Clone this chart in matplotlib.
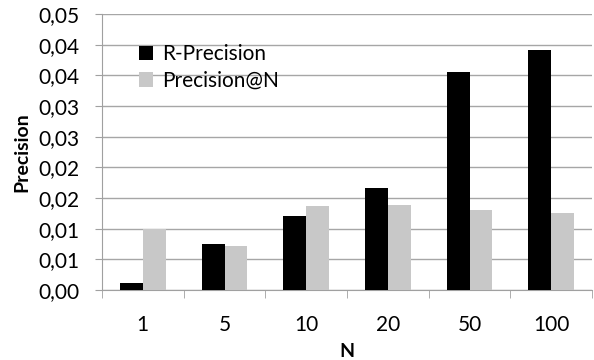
import numpy as np
import matplotlib
matplotlib.use("Agg")
import matplotlib.pyplot as plt
from matplotlib.ticker import FixedLocator

categories = ["1", "5", "10", "20", "50", "100"]
r_precision = [0.0011, 0.0075, 0.0120, 0.0167, 0.0356, 0.0391]
precision_at_n = [0.0100, 0.0072, 0.0137, 0.0139, 0.0131, 0.0125]
y_ticks = [0.0, 0.005, 0.01, 0.015, 0.02, 0.025, 0.03, 0.035, 0.04, 0.045]
# Excel-style rounding of the tick values to two decimals
y_labels = ["0,00", "0,01", "0,01", "0,02", "0,02", "0,03", "0,03", "0,04", "0,04", "0,05"]

plt.rcParams['font.family'] = ['Lato', 'DejaVu Sans']

fig = plt.figure(figsize=(5.94, 3.6), dpi=100)
ax = fig.add_axes([0.1717, 0.1944, 0.825, 0.7666])

x = np.arange(len(categories))
w = 0.28
ax.bar(x - w / 2, r_precision, w, color='black', label='R-Precision', zorder=3)
ax.bar(x + w / 2, precision_at_n, w, color='#c8c8c8', label='Precision@N', zorder=3)

ax.set_xlim(-0.5, len(categories) - 0.5)
ax.set_ylim(0, 0.045)
ax.set_yticks(y_ticks)
ax.set_yticklabels(y_labels, fontsize=15)

ax.set_xticks(x)
ax.set_xticklabels(categories, fontsize=15)
ax.xaxis.set_minor_locator(FixedLocator(np.arange(-0.5, len(categories), 1.0)))
ax.tick_params(axis='x', which='major', length=0, pad=18)
ax.tick_params(axis='x', which='minor', length=6, color='#a0a0a0', direction='out')
ax.tick_params(axis='y', length=5, color='#a0a0a0', direction='out', pad=11)

ax.grid(axis='y', color='#a6a6a6', linewidth=1, zorder=0)
for s in ['top', 'right']:
    ax.spines[s].set_visible(False)
for s in ['left', 'bottom']:
    ax.spines[s].set_color('#a0a0a0')

ax.set_ylabel('Precision', fontsize=14, fontweight='bold', labelpad=6)
ax.set_xlabel('N', fontsize=14, fontweight='bold', labelpad=6)

ax.legend(loc='upper left', bbox_to_anchor=(0.075, 0.89), frameon=False, fontsize=15,
          handlelength=0.7, handleheight=0.7, handletextpad=0.4, labelspacing=0.3,
          borderaxespad=0, borderpad=0)

fig.savefig('out.png', dpi=100)
